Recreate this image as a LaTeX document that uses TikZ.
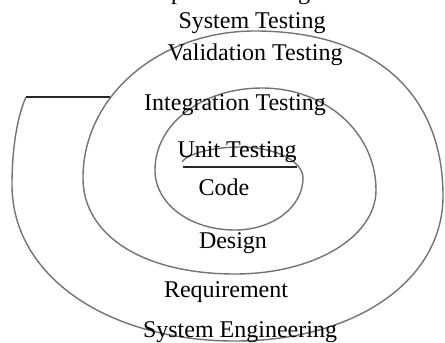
\documentclass[tikz,border=0pt]{standalone}
\usepackage{fontspec}
\setmainfont{Liberation Serif}
\usetikzlibrary{positioning}
\tikzset{
	phase/.style={
		anchor=base,
		inner sep=0pt,
		font=\fontsize{24}{24}\selectfont
	},
	coil/.style={
		draw=black!55,
		line width=1.4pt
	},
	bar/.style={
		draw=black!85,
		line width=1.3pt
	}
}

\begin{document}
\begin{tikzpicture}[x=1pt, y=-1pt]
	\useasboundingbox (0,0) rectangle (445,343);
	\clip (0,0) rectangle (445,343);
	% the spiral, quarter by quarter from the core outwards
	\draw[coil] (182,162) .. controls (188,153) and (215,147) .. (240,147)
		.. controls (275,147) and (303,161) .. (303,178)
		.. controls (303,207) and (273,230) .. (235,230)
		.. controls (190,230) and (155,204) .. (155,170)
		.. controls (155,124) and (202,88) .. (262,88)
		.. controls (326,88) and (376,133) .. (376,190)
		.. controls (376,237) and (314,274) .. (235,274)
		.. controls (144,274) and (83,236) .. (83,178)
		.. controls (83,96) and (159,31) .. (255,31)
		.. controls (373,31) and (443,92) .. (443,196)
		.. controls (443,280) and (356,341) .. (235,341)
		.. controls (106,341) and (12,275) .. (12,185)
		.. controls (12,145) and (18,115) .. (26,97);
	\node[phase] (accTest) at (216,-1) {Acceptance Testing};
	\node[phase] (sysTest) at (252,28) {System Testing};
	\node[phase] (valTest) at (255,60) {Validation Testing};
	\node[phase] (intTest) at (235,110) {Integration Testing};
	\node[phase] (unitTest) at (237,157) {Unit Testing};
	\node[phase] (code) at (224,195) {Code};
	\node[phase] (design) at (233,248) {Design};
	\node[phase] (req) at (226,297) {Requirement};
	\node[phase] (sysEng) at (240,337) {System Engineering};
	% closing bars
	\coordinate (outerEnd) at (26,97);
	\coordinate (outerJoin) at (110,97);
	\coordinate (coreL) at (183,167);
	\coordinate (coreR) at (297,167);
	\draw[bar] (outerEnd) -- (outerJoin);
	\draw[bar] (coreL) -- (coreR);
\end{tikzpicture}
\end{document}
